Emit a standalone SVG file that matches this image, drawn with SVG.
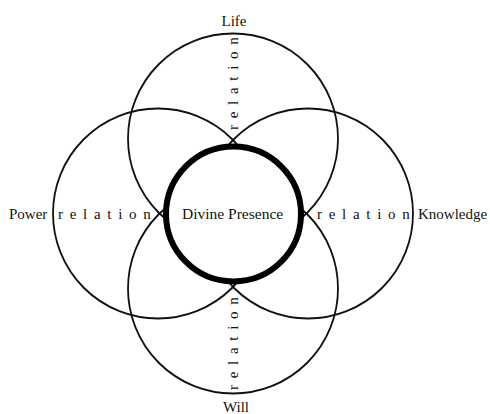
<svg xmlns="http://www.w3.org/2000/svg" width="490" height="414" viewBox="0 0 490 414">
<style>
.c{fill:none;stroke:#111;stroke-width:1.8}
.core{fill:#fff;stroke:#000;stroke-width:6}
.lbl{font-family:"Liberation Serif","Times New Roman",serif;font-size:15px;fill:#111}
.rel{font-family:"Liberation Serif","Times New Roman",serif;font-size:15px;fill:#111;letter-spacing:6.7px}
</style>
<rect width="490" height="414" fill="#fff"/>
<g id="connectors">
<text class="rel" transform="translate(238,130) rotate(-90)">relation</text>
<text class="rel" transform="translate(238,390) rotate(-90)">relation</text>
<text class="rel" x="58" y="218.5">relation</text>
<text class="rel" x="317" y="218.5">relation</text>
</g>
<g id="life"><circle class="c" cx="233" cy="138.5" r="105"/><text class="lbl" x="234" y="26" text-anchor="middle">Life</text></g>
<g id="will"><circle class="c" cx="233" cy="288.5" r="105"/><text class="lbl" x="236" y="412" text-anchor="middle">Will</text></g>
<g id="power"><circle class="c" cx="158" cy="213.5" r="105"/><text class="lbl" x="9" y="219">Power</text></g>
<g id="knowledge"><circle class="c" cx="308" cy="213.5" r="105"/><text class="lbl" x="418" y="219">Knowledge</text></g>
<g id="divine"><circle class="core" cx="233.5" cy="214" r="67.5"/><text class="lbl" x="182" y="219" style="font-size:15.5px">Divine Presence</text></g>
</svg>
